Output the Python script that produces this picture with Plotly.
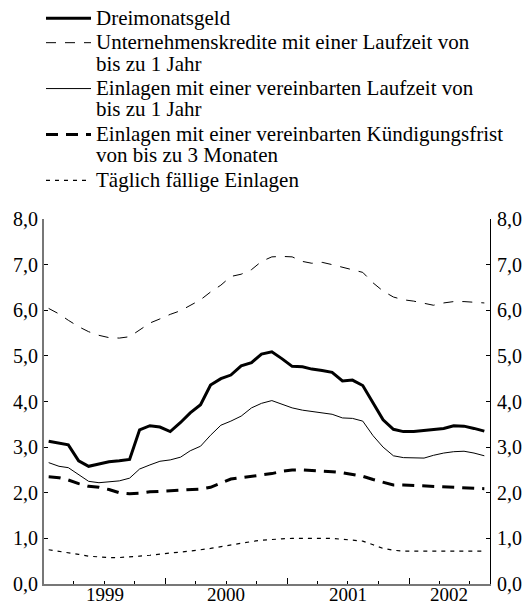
import plotly.graph_objects as go

# ---- data (monthly averages, % p.a.) ----
years = [1999, 2000, 2001, 2002]
months_per_year = [12, 12, 12, 8]

dreimonatsgeld = [
    3.13, 3.09, 3.05, 2.70, 2.58, 2.63, 2.68, 2.70, 2.73, 3.38, 3.47, 3.44,
    3.34, 3.54, 3.75, 3.93, 4.36, 4.50, 4.58, 4.78, 4.85, 5.04, 5.09, 4.94,
    4.77, 4.76, 4.71, 4.68, 4.64, 4.45, 4.47, 4.35, 3.98, 3.60, 3.39, 3.34,
    3.34, 3.36, 3.39, 3.41, 3.47, 3.46, 3.41, 3.35,
]
unternehmenskredite = [
    6.04, 5.92, 5.78, 5.64, 5.53, 5.45, 5.40, 5.39, 5.42, 5.57, 5.72, 5.81,
    5.91, 5.99, 6.10, 6.23, 6.40, 6.55, 6.74, 6.79, 6.89, 7.07, 7.17, 7.18,
    7.17, 7.07, 7.03, 7.05, 7.00, 6.94, 6.88, 6.83, 6.60, 6.42, 6.29, 6.23,
    6.20, 6.15, 6.11, 6.16, 6.19, 6.19, 6.18, 6.16,
]
einlagen_laufzeit = [
    2.66, 2.58, 2.55, 2.40, 2.25, 2.22, 2.24, 2.26, 2.32, 2.52, 2.61, 2.69,
    2.72, 2.78, 2.92, 3.02, 3.26, 3.48, 3.57, 3.68, 3.86, 3.96, 4.02, 3.94,
    3.86, 3.81, 3.78, 3.74, 3.72, 3.64, 3.63, 3.57, 3.25, 3.00, 2.81, 2.77,
    2.76, 2.76, 2.82, 2.87, 2.90, 2.91, 2.87, 2.81,
]
einlagen_kuendigung = [
    2.35, 2.33, 2.28, 2.20, 2.14, 2.12, 2.07, 2.00, 1.98, 1.99, 2.02, 2.03,
    2.04, 2.05, 2.06, 2.08, 2.12, 2.22, 2.30, 2.33, 2.36, 2.39, 2.42, 2.47,
    2.50, 2.50, 2.49, 2.48, 2.46, 2.44, 2.40, 2.36, 2.29, 2.23, 2.17, 2.17,
    2.16, 2.14, 2.13, 2.12, 2.11, 2.11, 2.10, 2.09,
]
taeglich = [
    0.75, 0.72, 0.69, 0.65, 0.61, 0.59, 0.58, 0.58, 0.59, 0.61, 0.63, 0.66,
    0.68, 0.70, 0.72, 0.75, 0.78, 0.82, 0.86, 0.90, 0.93, 0.96, 0.98, 0.99,
    1.00, 1.00, 1.01, 1.01, 1.00, 0.98, 0.96, 0.94, 0.86, 0.78, 0.74, 0.72,
    0.72, 0.72, 0.72, 0.72, 0.72, 0.72, 0.72, 0.72,
]

series_lines = [
    ["Dreimonatsgeld"],
    ["Unternehmenskredite mit einer Laufzeit von", "bis zu 1 Jahr"],
    ["Einlagen mit einer vereinbarten Laufzeit von", "bis zu 1 Jahr"],
    ["Einlagen mit einer vereinbarten Kündigungsfrist", "von bis zu 3 Monaten"],
    ["Täglich fällige Einlagen"],
]
y_ticks = [0, 1, 2, 3, 4, 5, 6, 7, 8]
year_labels = ["1999", "2000", "2001", "2002"]

# mid-month dates
dates = []
for yr, n in zip(years, months_per_year):
    for m in range(1, n + 1):
        dates.append(f"{yr}-{m:02d}-15")

styles = [
    dict(color="black", width=3, dash="solid"),
    dict(color="black", width=1, dash="10px,9px"),
    dict(color="black", width=1, dash="solid"),
    dict(color="black", width=3, dash="12px,8px"),
    dict(color="black", width=1.2, dash="4px,5px"),
]
values = [dreimonatsgeld, unternehmenskredite, einlagen_laufzeit,
          einlagen_kuendigung, taeglich]

FONT = "Liberation Serif, Times New Roman, serif"
LEGEND_GLYPH = "font-size:21px"


def legend_name(lines):
    return "<br>".join(f"<span style='{LEGEND_GLYPH}'>{t}</span>" for t in lines)


fig = go.Figure()
for lines, vals, st in zip(series_lines, values, styles):
    fig.add_trace(go.Scatter(x=dates, y=vals, mode="lines",
                             name=legend_name(lines),
                             line=st, hoverinfo="skip"))

# invisible trace to activate the right-hand axis
fig.add_trace(go.Scatter(x=dates[:1], y=taeglich[:1], yaxis="y2", mode="lines",
                         showlegend=False, hoverinfo="skip",
                         line=dict(width=0, color="rgba(0,0,0,0)")))

quarter_ticks = [f"{y}-{m:02d}-01" for y in range(1999, 2003) for m in (1, 4, 7, 10)]
year_ticks = ["2000-01-01", "2001-01-01", "2002-01-01"]
year_centers = ["1999-07-02", "2000-07-01", "2001-07-02", "2002-05-01"]

fig.update_layout(
    width=529, height=605,
    margin=dict(l=44, r=39, t=219, b=21, autoexpand=False),
    paper_bgcolor="white", plot_bgcolor="white",
    separators=",.",
    font=dict(family=FONT, size=19, color="black"),
    showlegend=True,
    legend=dict(
        xref="container", yref="container",
        x=41 / 529, y=1.0 - 1 / 605, xanchor="left", yanchor="top",
        font=dict(family=FONT, size=16.5, color="black"),
        itemwidth=45, valign="top", tracegroupgap=0,
        bgcolor="rgba(0,0,0,0)", borderwidth=0,
    ),
    xaxis=dict(
        type="date", range=["1999-01-01", "2002-09-01"],
        tickmode="array", tickvals=year_ticks,
        ticks="inside", ticklen=6, tickwidth=1,
        tickcolor="black", showticklabels=False,
        minor=dict(tickmode="array", tickvals=quarter_ticks, ticks="inside",
                   ticklen=3, tickwidth=1, tickcolor="black", showgrid=False),
        showline=True, linecolor="#777777", linewidth=2,
        showgrid=False, zeroline=False, fixedrange=True,
    ),
    yaxis=dict(
        range=[0, 8], tickmode="array", tickvals=y_ticks, tickformat=".1f",
        ticks="inside", ticklen=4, tickwidth=1, tickcolor="black",
        showline=True, linecolor="#777777", linewidth=2,
        showgrid=False, zeroline=False, fixedrange=True,
        tickfont=dict(family=FONT, size=20), ticklabelstandoff=0,
    ),
    yaxis2=dict(
        range=[0, 8], tickmode="array", tickvals=y_ticks, tickformat=".1f",
        overlaying="y", side="right", anchor="x",
        ticks="inside", ticklen=4, tickwidth=1, tickcolor="black",
        showline=True, linecolor="black", linewidth=1,
        showgrid=False, zeroline=False, fixedrange=True,
        tickfont=dict(family=FONT, size=20), ticklabelstandoff=2,
    ),
)

for lab, xc in zip(year_labels, year_centers):
    fig.add_annotation(x=xc, xref="x", xanchor="center", y=0, yref="paper",
                       yanchor="top", text=lab, showarrow=False, yshift=2,
                       font=dict(family=FONT, size=19, color="black"))

# remove the browser's default 8px body margin so the figure fills the window
fig.write_html("out.html",
               config={"displayModeBar": False, "staticPlot": False},
               post_script="document.body.style.margin='0';"
                           "document.documentElement.style.margin='0';")
